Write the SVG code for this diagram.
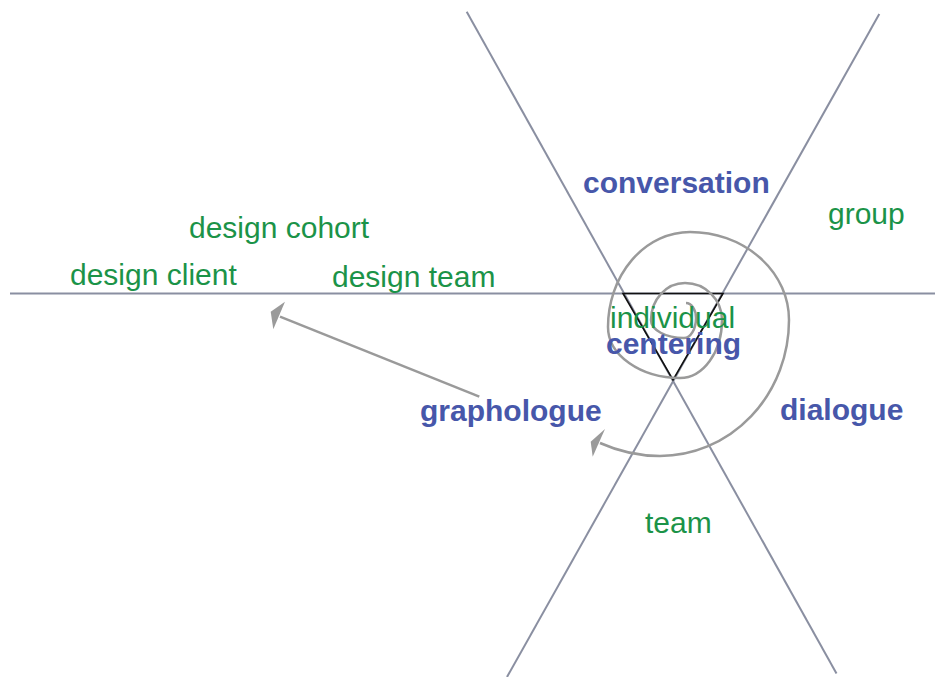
<svg xmlns="http://www.w3.org/2000/svg" width="935" height="677" viewBox="0 0 935 677">
<style>
.axis{stroke:#8a8fa1;stroke-width:2;fill:none}
.curve{stroke:#9a9a9a;stroke-width:2.5;fill:none}
.head{fill:#9a9a9a;stroke:none}
.tri{stroke:#111;stroke-width:1.6;fill:none}
.g{font-family:"Liberation Sans",Arial,sans-serif;font-size:30px;fill:#1b9348}
.b{font-family:"Liberation Sans",Arial,sans-serif;font-size:30px;font-weight:bold;fill:#4757aa}
</style>
<rect width="935" height="677" fill="#fff"/>
<g id="connectors">
  <line class="axis" x1="10" y1="293.5" x2="935" y2="293.5"/>
  <line class="axis" x1="466.7" y1="11.7" x2="836.5" y2="673.5"/>
  <line class="axis" x1="879.3" y1="14" x2="507" y2="677"/>
  <polygon class="tri" points="623,293.5 723,293.5 673,380"/>
  <path class="curve" d="M686,303 A10,15 0 0 1 696,318 A12,20 0 0 1 684,338 A33,18 0 0 1 651,320 A34,37 0 0 1 685,283 A37,37 0 0 1 722,320 A42,58 0 0 1 680,378 A72,51 0 0 1 608,327 A82,95 0 0 1 690,232 A99,88 0 0 1 789,320 A129,136 0 0 1 660,456 C640,456 618,451 600,443"/>
  <polygon class="head" points="605,429 590.7,441.7 592.7,456.7"/>
  <line class="curve" x1="479.3" y1="396.7" x2="280" y2="316.7"/>
  <polygon class="head" points="285,301.7 270.7,311.7 273.3,329.3"/>
</g>
<g id="design-cohort"><text class="g" x="189" y="238">design cohort</text></g>
<g id="design-client"><text class="g" x="70" y="285">design client</text></g>
<g id="design-team"><text class="g" x="332" y="287">design team</text></g>
<g id="conversation"><text class="b" x="583" y="193">conversation</text></g>
<g id="group"><text class="g" x="828" y="224">group</text></g>
<g id="individual"><text class="g" x="610" y="328">individual</text></g>
<g id="centering"><text class="b" x="606" y="354">centering</text></g>
<g id="graphologue"><text class="b" x="420" y="421">graphologue</text></g>
<g id="dialogue"><text class="b" x="780" y="420">dialogue</text></g>
<g id="team"><text class="g" x="645" y="533">team</text></g>
</svg>
